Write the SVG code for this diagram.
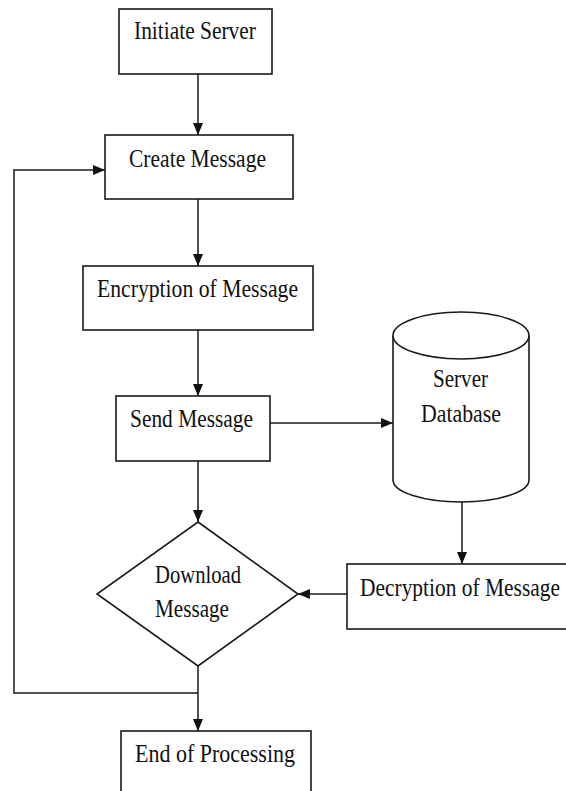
<svg xmlns="http://www.w3.org/2000/svg" width="566" height="791" viewBox="0 0 566 791">
  <style>
    .shape { fill: #fff; stroke: #1a1a1a; stroke-width: 1.6; }
    .link { fill: none; stroke: #1a1a1a; stroke-width: 1.5; }
    .label { font-family: "Liberation Serif", "Times New Roman", serif; font-size: 25px; fill: #111; }
  </style>
  <defs>
    <marker id="arrow" viewBox="0 0 12 10" refX="12" refY="5" markerWidth="12" markerHeight="10" markerUnits="userSpaceOnUse" orient="auto">
      <path d="M0,0 L12,5 L0,10 Z" fill="#111"/>
    </marker>
  </defs>

  <rect width="566" height="791" fill="#fff"/>

  <!-- connectors -->
  <g id="connectors">
    <line class="link" x1="198" y1="74" x2="198" y2="135" marker-end="url(#arrow)"/>
    <line class="link" x1="198" y1="199" x2="198" y2="266" marker-end="url(#arrow)"/>
    <line class="link" x1="198" y1="330" x2="198" y2="396" marker-end="url(#arrow)"/>
    <line class="link" x1="198" y1="461" x2="198" y2="522" marker-end="url(#arrow)"/>
    <line class="link" x1="270" y1="423" x2="393" y2="423" marker-end="url(#arrow)"/>
    <line class="link" x1="462" y1="502" x2="462" y2="564" marker-end="url(#arrow)"/>
    <line class="link" x1="347" y1="594" x2="298" y2="594" marker-end="url(#arrow)"/>
    <line class="link" x1="198" y1="666" x2="198" y2="731" marker-end="url(#arrow)"/>
    <polyline class="link" points="198,693 14,693 14,170 105,170" marker-end="url(#arrow)"/>
  </g>

  <g id="initiate-server">
    <rect class="shape" x="119" y="9" width="153" height="65"/>
    <text class="label" x="134" y="39" textLength="122" lengthAdjust="spacingAndGlyphs">Initiate Server</text>
  </g>

  <g id="create-message">
    <rect class="shape" x="105" y="135" width="188" height="64"/>
    <text class="label" x="129" y="167" textLength="137" lengthAdjust="spacingAndGlyphs">Create Message</text>
  </g>

  <g id="encryption">
    <rect class="shape" x="83" y="266" width="230" height="64"/>
    <text class="label" x="97" y="297" textLength="201" lengthAdjust="spacingAndGlyphs">Encryption of Message</text>
  </g>

  <g id="send-message">
    <rect class="shape" x="116" y="396" width="154" height="65"/>
    <text class="label" x="130" y="427" textLength="123" lengthAdjust="spacingAndGlyphs">Send Message</text>
  </g>

  <g id="server-database">
    <path class="shape" d="M393,335.5 L393,480 A68,22 0 0 0 529,480 L529,335.5"/>
    <ellipse class="shape" cx="461" cy="335.5" rx="68" ry="23.5"/>
    <text class="label" x="433" y="387" textLength="55" lengthAdjust="spacingAndGlyphs">Server</text>
    <text class="label" x="421" y="422" textLength="80" lengthAdjust="spacingAndGlyphs">Database</text>
  </g>

  <g id="download-message">
    <polygon class="shape" points="198,522 298,594 198,666 97,594"/>
    <text class="label" x="155" y="583" textLength="86" lengthAdjust="spacingAndGlyphs">Download</text>
    <text class="label" x="155" y="617" textLength="74" lengthAdjust="spacingAndGlyphs">Message</text>
  </g>

  <g id="decryption">
    <rect class="shape" x="347" y="564" width="230" height="65"/>
    <text class="label" x="360" y="596" textLength="200" lengthAdjust="spacingAndGlyphs">Decryption of Message</text>
  </g>

  <g id="end-of-processing">
    <rect class="shape" x="121" y="731" width="190" height="80"/>
    <text class="label" x="135" y="762" textLength="160" lengthAdjust="spacingAndGlyphs">End of Processing</text>
  </g>
</svg>
